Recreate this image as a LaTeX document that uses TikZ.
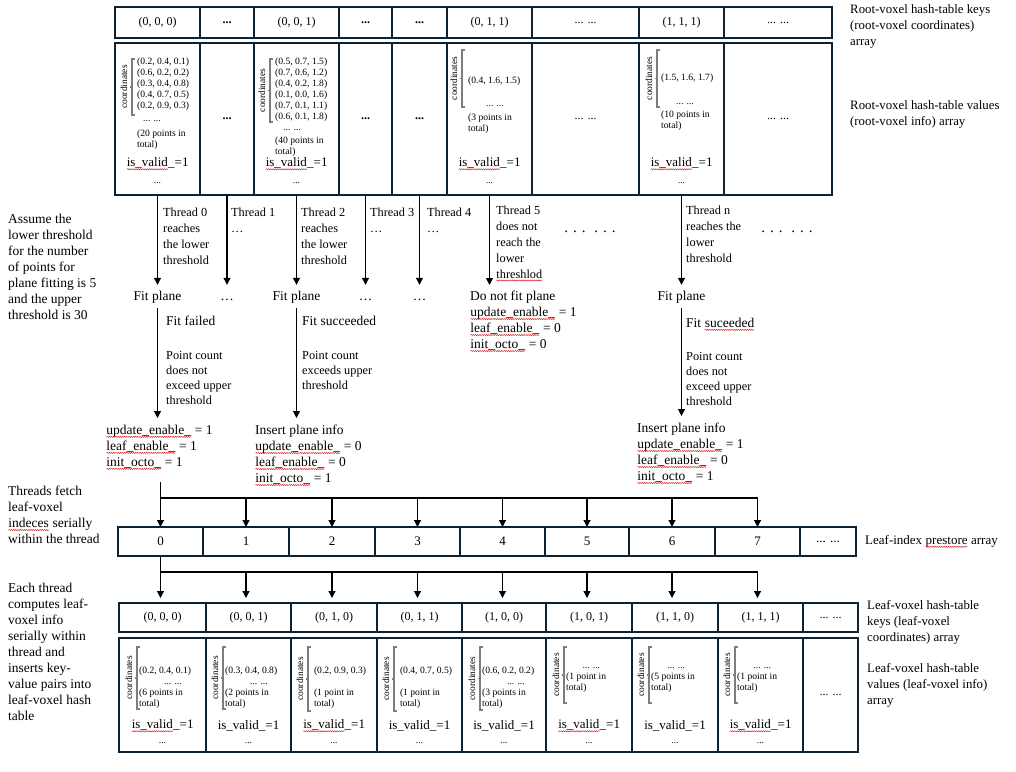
\documentclass[tikz,border=0pt]{standalone}
\usepackage{fontspec}
\setmainfont{Liberation Serif}
\usetikzlibrary{arrows.meta,decorations.pathmorphing}
\definecolor{boxline}{RGB}{14,34,50}
\definecolor{bracegray}{RGB}{125,125,125}
\definecolor{spellred}{RGB}{225,35,35}

% red wavy spell-check mark under a word
\newcommand{\spell}[1]{\tikz[baseline=(w.base)]{\node[inner sep=0pt,outer sep=0pt,anchor=base] (w) {#1};%
  \draw[spellred,line width=0.5pt,decorate,decoration={snake,amplitude=0.55pt,segment length=2.2pt}] ([yshift=-2.3pt]w.base west) -- ([yshift=-2.3pt]w.base east);}}

% grey bracket with rotated "coordinates" label: name, x, top, bottom
\newcommand{\coordbrace}[4]{%
  \draw[bracestroke] ({#2+3},#3) -- (#2,#3) -- (#2,#4) -- ({#2+3},#4);
  \draw[bracestroke] (#2,{(#3+#4)/2}) -- ++(-2.5,0);
  \node[coordlabel] (#1) at ({#2-8},{(#3+#4)/2}) {coordinates};}

\begin{document}
\begin{tikzpicture}[x=1pt, y=-1pt,
    cell/.style={draw=boxline, line width=1.1pt, inner sep=0pt, outer sep=0pt, font=\fontsize{12}{14}\selectfont},
    arr/.style={-{Triangle[width=7pt,length=7pt]}, line width=1.1pt},
    link/.style={line width=1.1pt},
    mainlabel/.style={align=left, inner sep=0pt, anchor=north west, font=\fontsize{13.5}{16}\selectfont},
    threadlabel/.style={align=left, inner sep=0pt, anchor=north west, font=\fontsize{12.3}{16}\selectfont},
    condlabel/.style={align=left, inner sep=0pt, anchor=north west, font=\fontsize{12.3}{15}\selectfont},
    rightlabel/.style={align=left, inner sep=0pt, anchor=north west, font=\fontsize{12.8}{16}\selectfont},
    stepnode/.style={inner xsep=1pt, inner ysep=5pt, text height=10pt, text depth=3pt, font=\fontsize{13.5}{16}\selectfont},
    coordlist/.style={align=left, inner sep=0pt, anchor=north west, font=\fontsize{9.6}{11}\selectfont},
    coordlabel/.style={rotate=90, inner sep=0pt, font=\fontsize{9.4}{11}\selectfont},
    smalldots/.style={inner sep=0pt, font=\fontsize{9.6}{11}\selectfont},
    validtext/.style={inner sep=0pt, font=\fontsize{13}{15}\selectfont},
    bracestroke/.style={draw=bracegray, line width=1.4pt}]

\fill[white] (0,0) rectangle (1016,771);
\useasboundingbox (0,0) rectangle (1016,771);

% Root-voxel keys
\foreach \xa/\xb/\i/\txt in {115/200/0/{(0, 0, 0)}, 200/254/1/{\textbf{\large...}}, 254/339/2/{(0, 0, 1)},
    339/392/3/{\textbf{\large...}}, 392/447/4/{\textbf{\large...}}, 447/532/5/{(0, 1, 1)},
    532/639/6/{... ...}, 639/724/7/{(1, 1, 1)}, 724/832/8/{... ...}}{
  \pgfmathsetmacro\cw{\xb-\xa}
  \node[cell, minimum width=\cw pt, minimum height=31pt] (rk\i) at ({(\xa+\xb)/2},22.5) {\txt};
}

% Root-voxel values
\foreach \xa/\xb/\i/\txt in {115/200/0/{}, 200/254/1/{\textbf{\large...}}, 254/339/2/{},
    339/392/3/{\textbf{\large...}}, 392/447/4/{\textbf{\large...}}, 447/532/5/{},
    532/639/6/{... ...}, 639/724/7/{}, 724/832/8/{... ...}}{
  \pgfmathsetmacro\cw{\xb-\xa}
  \node[cell, minimum width=\cw pt, minimum height=152pt] (rv\i) at ({(\xa+\xb)/2},119) {\txt};
}

% Root-voxel info (0, 0, 0)
\coordbrace{rc0}{132}{59}{115}
\node[coordlist] (rp0) at (137,57.5) {(0.2, 0.4, 0.1)\\(0.6, 0.2, 0.2)\\(0.3, 0.4, 0.8)\\(0.4, 0.7, 0.5)\\(0.2, 0.9, 0.3)};
\node[smalldots] (rm0) at (152,121) {... ...};
\node[coordlist] (rn0) at (137,130) {(20 points in\\total)};
\node[validtext] (rval0) at (rv0 |- 0,164) {\spell{is\_valid}\_=1};
\node[smalldots] (re0) at (rv0 |- 0,183) {...};

% Root-voxel info (0, 0, 1)
\coordbrace{rc2}{270}{59}{122}
\node[coordlist] (rp2) at (275,57.5) {(0.5, 0.7, 1.5)\\(0.7, 0.6, 1.2)\\(0.4, 0.2, 1.8)\\(0.1, 0.0, 1.6)\\(0.7, 0.1, 1.1)\\(0.6, 0.1, 1.8)};
\node[smalldots] (rm2) at (292,130) {... ...};
\node[coordlist] (rn2) at (275,137) {(40 points in\\total)};
\node[validtext] (rval2) at (rv2 |- 0,164) {\spell{is\_valid}\_=1};
\node[smalldots] (re2) at (rv2 |- 0,183) {...};

% Root-voxel info (0, 1, 1)
\coordbrace{rc5}{462}{50}{107}
\node[coordlist] (rp5) at (468,76.5) {(0.4, 1.6, 1.5)};
\node[smalldots] (rm5) at (495,106) {... ...};
\node[coordlist] (rn5) at (468,113.5) {(3 points in\\total)};
\node[validtext] (rval5) at (rv5 |- 0,164) {\spell{is\_valid}\_=1};
\node[smalldots] (re5) at (rv5 |- 0,183) {...};

% Root-voxel info (1, 1, 1)
\coordbrace{rc7}{657}{50}{107}
\node[coordlist] (rp7) at (661,73.5) {(1.5, 1.6, 1.7)};
\node[smalldots] (rm7) at (685,104) {... ...};
\node[coordlist] (rn7) at (661,111) {(10 points in\\total)};
\node[validtext] (rval7) at (rv7 |- 0,164) {\spell{is\_valid}\_=1};
\node[smalldots] (re7) at (rv7 |- 0,183) {...};

% Right-hand labels, root arrays
\node[rightlabel] (rklab) at (850,4) {Root-voxel hash-table keys\\(root-voxel coordinates)\\array};
\node[rightlabel] (rvlab) at (850,100) {Root-voxel hash-table values\\(root-voxel info) array};

% Left note
\node[mainlabel] (assume) at (8,214) {Assume the\\lower threshold\\for the number\\of points for\\plane fitting is 5\\and the upper\\threshold is 30};

% Thread labels
\node[threadlabel] (th0) at (163,207.5) {Thread 0\\reaches\\the lower\\threshold};
\node[threadlabel] (th1) at (231,207.5) {Thread 1\\\ldots};
\node[threadlabel] (th2) at (301,207.5) {Thread 2\\reaches\\the lower\\threshold};
\node[threadlabel] (th3) at (370,207.5) {Thread 3\\\ldots};
\node[threadlabel] (th4) at (427,207.5) {Thread 4\\\ldots};
\node[threadlabel] (th5) at (496,205.5) {Thread 5\\does not\\reach the\\lower\\\spell{threshlod}};
\node[threadlabel] (thn) at (686,205.5) {Thread n\\reaches the\\lower\\threshold};
\node[stepnode, font=\fontsize{15}{16}\selectfont] (gap1) at (590,229) {. . . \ . . .};
\node[stepnode, font=\fontsize{15}{16}\selectfont] (gap2) at (787,229) {. . . \ . . .};

% Fit step
\node[stepnode] (fit0) at (rv0 |- 0,296.5) {Fit plane};
\node[stepnode] (fd1) at (rv1 |- 0,296.5) {\ldots};
\node[stepnode] (fit2) at (rv2 |- 0,296.5) {Fit plane};
\node[stepnode] (fd3) at (rv3 |- 0,296.5) {\ldots};
\node[stepnode] (fd4) at (rv4 |- 0,296.5) {\ldots};
\node[mainlabel] (nofit) at (470,291) {Do not fit plane\\\spell{update\_enable\_} = 1\\\spell{leaf\_enable\_} = 0\\\spell{init\_octo\_} = 0};
\node[stepnode] (fitn) at (rv7 |- 0,296.5) {Fit plane};

% Fit results
\node[mainlabel] (fr0) at (166,316) {Fit failed};
\node[condlabel] (pc0) at (166,351) {Point count\\does not\\exceed upper\\threshold};
\node[mainlabel] (fr2) at (302,316) {Fit succeeded};
\node[condlabel] (pc2) at (302,351) {Point count\\exceeds upper\\threshold};
\node[mainlabel] (frn) at (686,318) {Fit \spell{suceeded}};
\node[condlabel] (pcn) at (686,352) {Point count\\does not\\exceed upper\\threshold};

% Flags
\node[mainlabel] (res0) at (106,425) {\spell{update\_enable\_} = 1\\\spell{leaf\_enable\_} = 1\\\spell{init\_octo\_} = 1};
\node[mainlabel] (res2) at (255,425) {Insert plane info\\\spell{update\_enable\_} = 0\\\spell{leaf\_enable\_} = 0\\\spell{init\_octo\_} = 1};
\node[mainlabel] (resn) at (637,423) {Insert plane info\\\spell{update\_enable\_} = 1\\\spell{leaf\_enable\_} = 0\\\spell{init\_octo\_} = 1};

% Thread arrows
\draw[arr] (rv0.south) -- (fit0);
\draw[arr] (rv1.south) -- (fd1);
\draw[arr] (rv2.south) -- (fit2);
\draw[arr] (rv3.south) -- (fd3);
\draw[arr] (rv4.south) -- (fd4);
\draw[arr] (rv5.south) -- ([yshift=6pt]rv5.south |- nofit.north);
\draw[arr] (rv7.south) -- (fitn);
\draw[arr, shorten >=7pt] (fit0) -- (fit0 |- res0.north);
\draw[arr, shorten >=7pt] (fit2) -- (fit2 |- res2.north);
\draw[arr, shorten >=7pt] (fitn) -- (fitn |- resn.north);

% Leaf-index prestore array
\foreach \xa/\xb/\i/\txt in {118/203/0/0, 203/289/1/1, 289/375/2/2, 375/460/3/3, 460/545/4/4,
    545/629/5/5, 629/715/6/6, 715/800/7/7, 800/856/8/{... ...}}{
  \pgfmathsetmacro\cw{\xb-\xa}
  \node[cell, font=\fontsize{13}{15}\selectfont, minimum width=\cw pt, minimum height=29pt] (li\i) at ({(\xa+\xb)/2},541.5) {\txt};
}
\node[mainlabel, anchor=west, font=\fontsize{13}{15}\selectfont] (lilab) at (865,541.5) {Leaf-index \spell{prestore} array};
\node[mainlabel] (fetch) at (8,486) {Threads fetch\\leaf-voxel\\\spell{indeces} serially\\within the thread};

% Fetch indices
\coordinate (split1) at (160.5,482);
\coordinate (fan1) at (160.5,498);
\draw[link] (split1) -- (fan1) -- (fan1 -| li7);
\foreach \i in {0,...,7}
  \draw[arr] (fan1 -| li\i) -- (li\i.north);

% Leaf-voxel keys
\foreach \xa/\xb/\i/\txt in {119/206/0/{(0, 0, 0)}, 206/291/1/{(0, 0, 1)}, 291/377/2/{(0, 1, 0)},
    377/462/3/{(0, 1, 1)}, 462/546/4/{(1, 0, 0)}, 546/632/5/{(1, 0, 1)},
    632/718/6/{(1, 1, 0)}, 718/803/7/{(1, 1, 1)}, 803/858/8/{... ...}}{
  \pgfmathsetmacro\cw{\xb-\xa}
  \node[cell, minimum width=\cw pt, minimum height=29pt] (lk\i) at ({(\xa+\xb)/2},617.5) {\txt};
}

% Leaf-voxel values
\foreach \xa/\xb/\i/\txt in {119/206/0/{}, 206/291/1/{}, 291/377/2/{}, 377/462/3/{}, 462/546/4/{},
    546/632/5/{}, 632/718/6/{}, 718/803/7/{}, 803/858/8/{... ...}}{
  \pgfmathsetmacro\cw{\xb-\xa}
  \node[cell, minimum width=\cw pt, minimum height=114pt] (lv\i) at ({(\xa+\xb)/2},695) {\txt};
}

% Leaf-voxel info
\foreach \i/\bx/\bot/\sq/\body in {
    0/137/709/1/{(0.2, 0.4, 0.1)\\\hspace*{2.6em}... ...\\(6 points in\\total)},
    1/223/709/0/{(0.3, 0.4, 0.8)\\\hspace*{2.6em}... ...\\(2 points in\\total)},
    2/308/711/1/{\hspace*{0.4em}(0.2, 0.9, 0.3)\\\mbox{}\\\hspace*{0.4em}(1 point in\\\hspace*{0.4em}total)},
    3/394/711/0/{\hspace*{0.4em}(0.4, 0.7, 0.5)\\\mbox{}\\\hspace*{0.4em}(1 point in\\\hspace*{0.4em}total)},
    4/480/710/0/{(0.6, 0.2, 0.2)\\\hspace*{2.6em}... ...\\(3 points in\\total)},
    5/564/703/1/{\hspace*{1.7em}... ...\\(1 point in\\total)},
    6/649/703/0/{\hspace*{1.7em}... ...\\(5 points in\\total)},
    7/735/703/1/{\hspace*{1.7em}... ...\\(1 point in\\total)}}{
  \coordbrace{lc\i}{\bx}{647}{\bot}
  \node[coordlist] (lp\i) at ({\bx+2},667) {\body};
  \node[validtext] (lval\i) at (lv\i |- 0,726) {\ifnum\sq=1 \spell{is\_valid}\else is\_valid\fi\_=1};
  \node[smalldots] (le\i) at (lv\i |- 0,743) {...};
}

% Fill hash table
\coordinate (fan2) at (160.5,572);
\draw[link] (li0.south) -- (fan2) -- (fan2 -| li7);
\foreach \i in {0,...,7}
  \draw[arr, shorten >=5pt] (fan2 -| li\i) -- (li\i |- lk\i.north);

\node[mainlabel] (compute) at (8,583) {Each thread\\computes leaf-\\voxel info\\serially within\\thread and\\inserts key-\\value pairs into\\leaf-voxel hash\\table};
\node[rightlabel] (lklab) at (867,600) {Leaf-voxel hash-table\\keys (leaf-voxel\\coordinates) array};
\node[rightlabel] (lvlab) at (867,663) {Leaf-voxel hash-table\\values (leaf-voxel info)\\array};

\end{tikzpicture}
\end{document}
